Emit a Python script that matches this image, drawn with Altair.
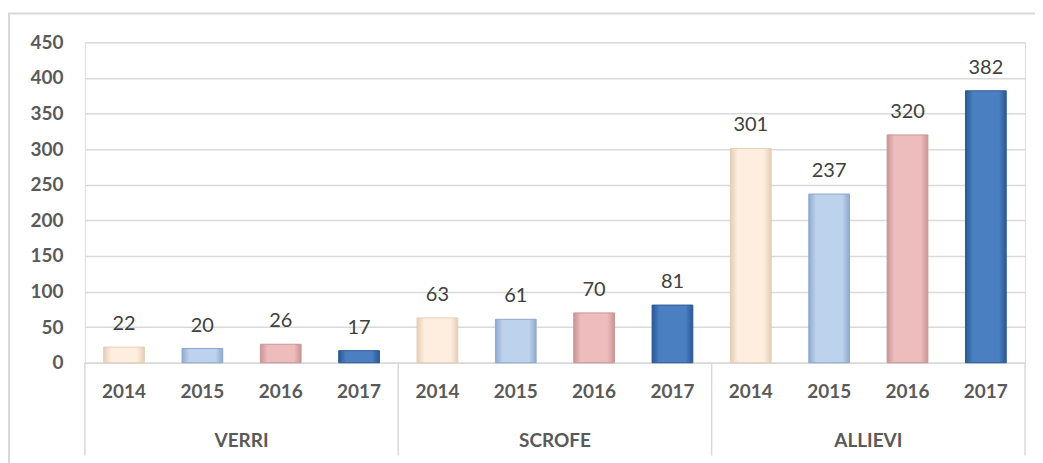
import altair as alt
import pandas as pd

groups = ["VERRI", "SCROFE", "ALLIEVI"]
years = ["2014", "2015", "2016", "2017"]
verri = [22, 20, 26, 17]
scrofe = [63, 61, 70, 81]
allievi = [301, 237, 320, 382]
y_ticks = [0, 50, 100, 150, 200, 250, 300, 350, 400, 450]

year_colors = {
    "2014": ("#E6CDB5", "#FDEEDF"),
    "2015": ("#8FAACD", "#BDD2EC"),
    "2016": ("#C99594", "#EDBDBD"),
    "2017": ("#2A5893", "#4A7FC2"),
}

rows = []
for g, vals in zip(groups, [verri, scrofe, allievi]):
    for y, v in zip(years, vals):
        rows.append({"group": g, "year": y, "key": f"{g}|{y}", "value": v})
df = pd.DataFrame(rows)
keys = list(df["key"])

gdf = pd.DataFrame({"group": groups, "gi": [0.5, 1.5, 2.5]})
sdf = pd.DataFrame({"s": [0, 1, 2, 3]})

W, H = 942, 321
FONT = "Lato"
FS = 19

xenc = alt.X(
    "key:N",
    scale=alt.Scale(domain=keys, paddingInner=0.48, paddingOuter=0.24),
    axis=alt.Axis(
        title=None,
        labelExpr="split(datum.label, '|')[1]",
        labelAngle=0,
        labelFont=FONT,
        labelFontWeight="bold",
        labelFontSize=FS,
        labelColor="#595959",
        labelPadding=20,
        labelOverlap=False,
        ticks=False,
        domainColor="#D9D9D9",
        domainWidth=1.5,
    ),
)
yenc = alt.Y(
    "value:Q",
    scale=alt.Scale(domain=[0, 450], nice=False),
    axis=alt.Axis(
        title=None,
        values=y_ticks,
        labelFont=FONT,
        labelFontWeight="bold",
        labelFontSize=FS,
        labelColor="#595959",
        labelPadding=22,
        labelOverlap=False,
        ticks=False,
        domain=False,
        gridColor="#D9D9D9",
        gridWidth=1.5,
    ),
)

base = alt.Chart(df)
bar_layers = []
for y in years:
    edge, mid = year_colors[y]
    grad = alt.Gradient(
        gradient="linear",
        stops=[
            alt.GradientStop(color=edge, offset=0),
            alt.GradientStop(color=mid, offset=0.18),
            alt.GradientStop(color=mid, offset=0.82),
            alt.GradientStop(color=edge, offset=1),
        ],
        x1=0, x2=1, y1=0, y2=0,
    )
    bar_layers.append(
        base.transform_filter(alt.datum.year == y)
        .mark_bar(color=grad, stroke=edge, strokeWidth=1)
        .encode(x=xenc, y=yenc)
    )

labels = base.mark_text(
    font=FONT, fontSize=20, color="#404040", baseline="alphabetic", dy=-17
).encode(x=xenc, y=yenc, text="value:Q")

main = alt.layer(*bar_layers, labels)

sep = alt.Chart(sdf).mark_rule(color="#D9D9D9", strokeWidth=1.5).encode(
    x=alt.X("s:Q", scale=alt.Scale(domain=[0, 3], nice=False, zero=False), axis=None),
    y=alt.value(H),
    y2=alt.value(H + 93),
)
glabels = alt.Chart(gdf).mark_text(
    font=FONT, fontSize=FS, fontWeight="bold", color="#595959", baseline="middle"
).encode(
    x=alt.X("gi:Q", scale=alt.Scale(domain=[0, 3], nice=False, zero=False), axis=None),
    y=alt.value(H + 78),
    text="group:N",
)
frame = alt.Chart(gdf).mark_rect(
    fill=None, stroke="#D9D9D9", strokeWidth=1.5, clip=False
).encode(
    x=alt.value(-76), x2=alt.value(W + 30), y=alt.value(-29), y2=alt.value(H + 130)
)

chart = (
    alt.layer(frame, main, sep, glabels)
    .resolve_scale(x="independent")
    .properties(
        width=W,
        height=H,
        autosize=alt.AutoSizeParams(type="none"),
        padding={"left": 77, "top": 34, "right": 10, "bottom": 100},
    )
    .configure_view(stroke=None)
    .configure(background="white")
)

chart.save("out.html", embed_options={"renderer": "svg", "actions": False})
